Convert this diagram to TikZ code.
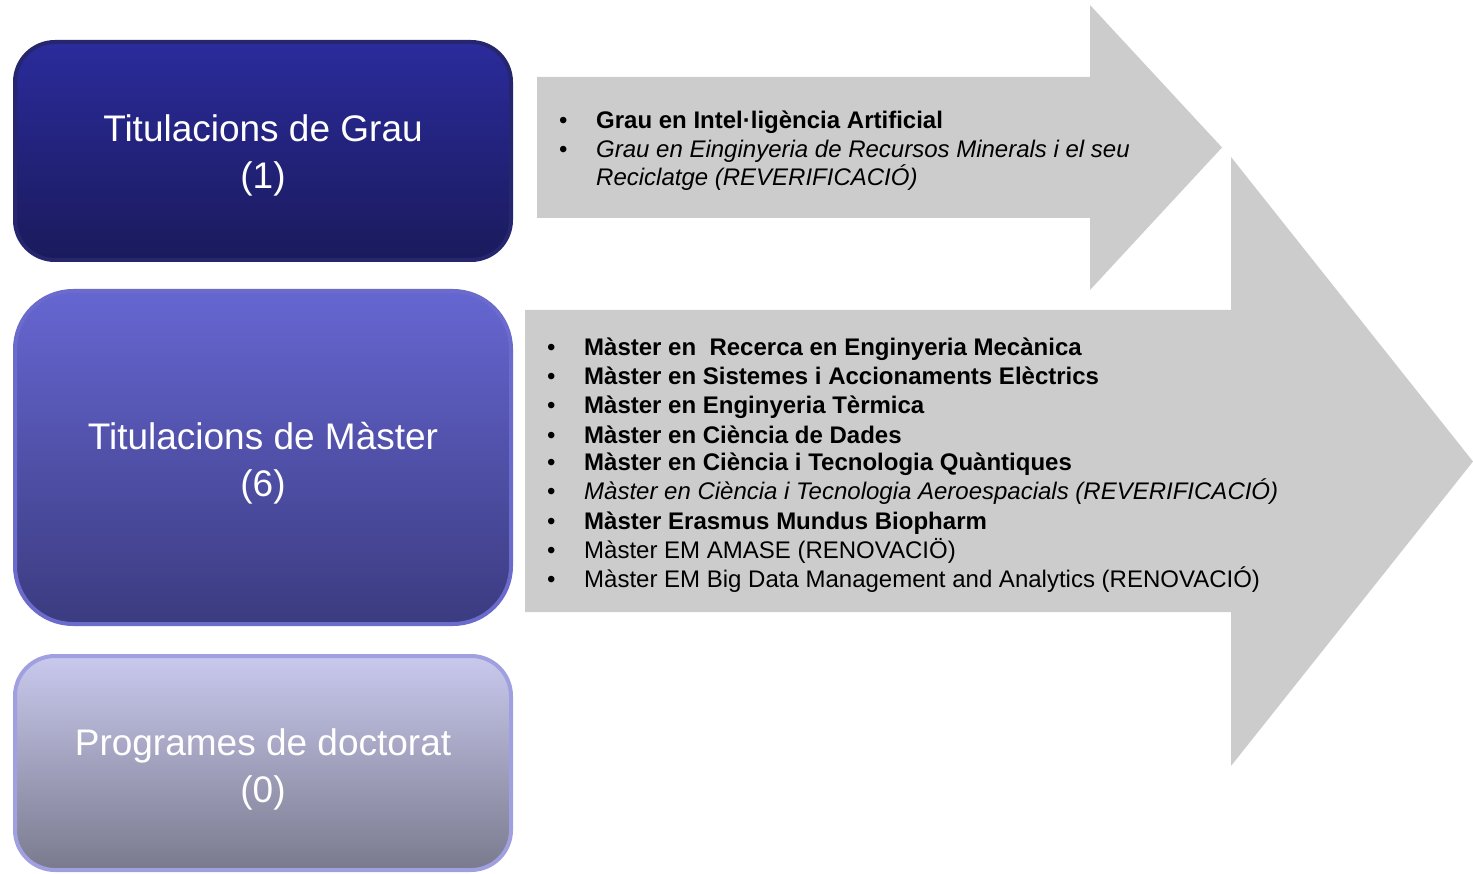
\documentclass[tikz,border=0pt]{standalone}
\usepackage{fontspec}
\setmainfont{Liberation Sans}
\definecolor{arrowgray}{HTML}{CCCCCC}
\definecolor{gtop}{HTML}{2B2B9C}
\definecolor{gbot}{HTML}{1A1A5C}
\definecolor{gline}{HTML}{26266E}
\definecolor{mtop}{HTML}{6666D2}
\definecolor{mbot}{HTML}{3B3B80}
\definecolor{mline}{HTML}{6B6BCC}
\definecolor{dtop}{HTML}{C9C9EE}
\definecolor{dbot}{HTML}{7A7A8E}
\definecolor{dline}{HTML}{A0A0E0}
\tikzset{
  titlebox/.style={rectangle, minimum width=496, line width=4, inner sep=0},
  titletxt/.style={align=center, text=white, inner sep=0, font=\fontsize{37}{47}\selectfont},
  bul/.style={anchor=base west, inner sep=0, font=\fontsize{24}{29}\selectfont},
  itemtxt/.style={anchor=base west, inner sep=0, font=\fontsize{24}{29}\selectfont},
  bigarrow/.style={fill=arrowgray}
}
\begin{document}
\begin{tikzpicture}[x=1pt,y=-1pt]
\useasboundingbox (0,0) rectangle (1473,874);
% arrows
\fill[bigarrow] (537,77) -- (1090,77) -- (1090,5) -- (1222,147.5) -- (1090,290) -- (1090,218) -- (537,218) -- cycle;
\fill[bigarrow] (525,310) -- (1231,310) -- (1231,157) -- (1473,461.5) -- (1231,766) -- (1231,612) -- (525,612) -- cycle;
% boxes
\node[titlebox, minimum height=218, rounded corners=40, top color=gtop, bottom color=gbot, draw=gline]
  (grau) at (263,151) {};
\node[titletxt] (grauT) at ([yshift=-4pt]grau.center) {Titulacions de Grau\\(1)};
\node[titlebox, minimum height=333, rounded corners=58, top color=mtop, bottom color=mbot, draw=mline]
  (master) at (263,457.5) {};
\node[titletxt] (masterT) at ([yshift=-5.5pt]master.center) {Titulacions de Màster\\(6)};
\node[titlebox, minimum height=214, rounded corners=40, top color=dtop, bottom color=dbot, draw=dline]
  (doct) at (263,763) {};
\node[titletxt] (doctT) at ([yshift=-6pt]doct.center) {Programes de doctorat\\(0)};
% arrow 1 items
\node[bul] (b1) at (559,129) {•};
\node[itemtxt] (t1) at (596,129) {\bfseries Grau en Intel·ligència Artificial};
\node[bul] (b2) at (559,157.5) {•};
\node[itemtxt] (t2) at (596,157.5) {\itshape Grau en Einginyeria de Recursos Minerals i el seu};
\node[itemtxt] (t3) at (596,186) {\itshape Reciclatge (REVERIFICACIÓ)};
% arrow 2 items
\node[bul] (c1) at (547,356) {•};
\node[itemtxt] (s1) at (584,356) {\bfseries Màster en~ Recerca en Enginyeria Mecànica};
\node[bul] (c2) at (547,385) {•};
\node[itemtxt] (s2) at (584,385) {\bfseries Màster en Sistemes i Accionaments Elèctrics};
\node[bul] (c3) at (547,414) {•};
\node[itemtxt] (s3) at (584,414) {\bfseries Màster en Enginyeria Tèrmica};
\node[bul] (c4) at (547,443) {•};
\node[itemtxt] (s4) at (584,443) {\bfseries Màster en Ciència de Dades};
\node[bul] (c5) at (547,471) {•};
\node[itemtxt] (s5) at (584,471) {\bfseries Màster en Ciència i Tecnologia Quàntiques};
\node[bul] (c6) at (547,500) {•};
\node[itemtxt] (s6) at (584,500) {\itshape Màster en Ciència i Tecnologia Aeroespacials (REVERIFICACIÓ)};
\node[bul] (c7) at (547,529) {•};
\node[itemtxt] (s7) at (584,529) {\bfseries Màster Erasmus Mundus Biopharm};
\node[bul] (c8) at (547,558) {•};
\node[itemtxt] (s8) at (584,558) {Màster EM AMASE (RENOVACIÖ)};
\node[bul] (c9) at (547,587) {•};
\node[itemtxt] (s9) at (584,587) {Màster EM Big Data Management and Analytics (RENOVACIÓ)};
\end{tikzpicture}
\end{document}
